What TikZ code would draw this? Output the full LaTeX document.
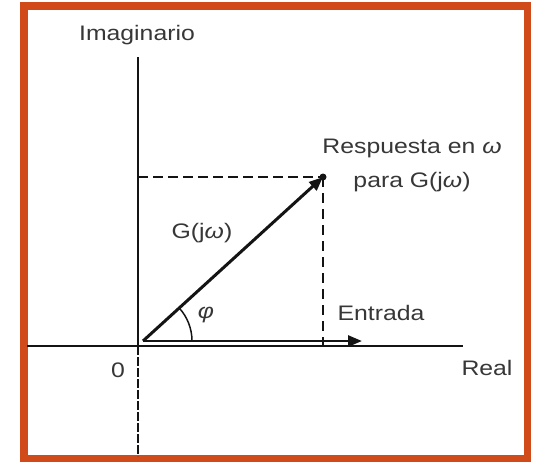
\documentclass[tikz,border=0pt]{standalone}
\usepackage{fontspec}
\setmainfont{Liberation Sans}[FakeStretch=1.18]
\usetikzlibrary{arrows.meta}
\definecolor{frame}{RGB}{208,74,26}
\definecolor{ink}{RGB}{20,20,20}
\begin{document}
\begin{tikzpicture}[x=1pt,y=-1pt,
  lbl/.style={font=\fontsize{21}{24}\selectfont, inner sep=0pt, text=ink!85},
  axis/.style={line width=2.2pt, draw=ink},
  vec/.style={line width=3pt, draw=ink, -{Triangle[length=14pt,width=11pt]}},
  guide/.style={draw=ink, dash pattern=on 10pt off 5pt}]
\useasboundingbox (0,0) rectangle (538,463);
\fill[white] (0,0) rectangle (538,463);
\draw[line width=7.5pt, draw=frame] (23.75,5.75) rectangle (527.25,458.25);
% coordinates
\coordinate (O) at (143,341);
\coordinate (P) at (323,177);
\coordinate (E) at (362,341);
\coordinate (Ytop) at (138,57);
\coordinate (Ybot) at (138,456);
\coordinate (Xl) at (27,346);
\coordinate (Xr) at (463,346);
\coordinate (Yp) at (138,177);
\coordinate (Xp) at (323,346);
% axes
\draw[axis] (Xl) -- (Xr);
\draw[axis] (Ytop) -- (138,346);
\draw[line width=1.6pt, draw=ink, dash pattern=on 9pt off 2pt] (138,346) -- (Ybot);
% guides
\draw[guide, line width=2.2pt] (Yp) -- (P);
\draw[guide, line width=1.4pt, dash pattern=on 10pt off 6pt] (P) -- (Xp);
% vectors
\draw[vec] (O) -- (P);
\fill[ink] (P) circle (3.5pt);
\draw[vec, line width=2.6pt] (O) -- (E);
% angle
\draw[line width=1.5pt, draw=ink] (192,341) arc[start angle=0, end angle=-42.5, radius=49];
% labels
\node[lbl] (imag) at (137,35) {Imaginario};
\node[lbl] (zero) at (118,370) {0};
\node[lbl] (real) at (487,368) {Real};
\node[lbl] (ent) at (381,313) {Entrada};
\node[lbl] (gj) at (202,233) {G(j\textit{ω})};
\node[lbl] (phi) at (206,315) {\textit{φ}};
\node[lbl] (resp) at (412,148) {Respuesta en \textit{ω}};
\node[lbl] (para) at (412,182) {para G(j\textit{ω})};
\end{tikzpicture}
\end{document}
